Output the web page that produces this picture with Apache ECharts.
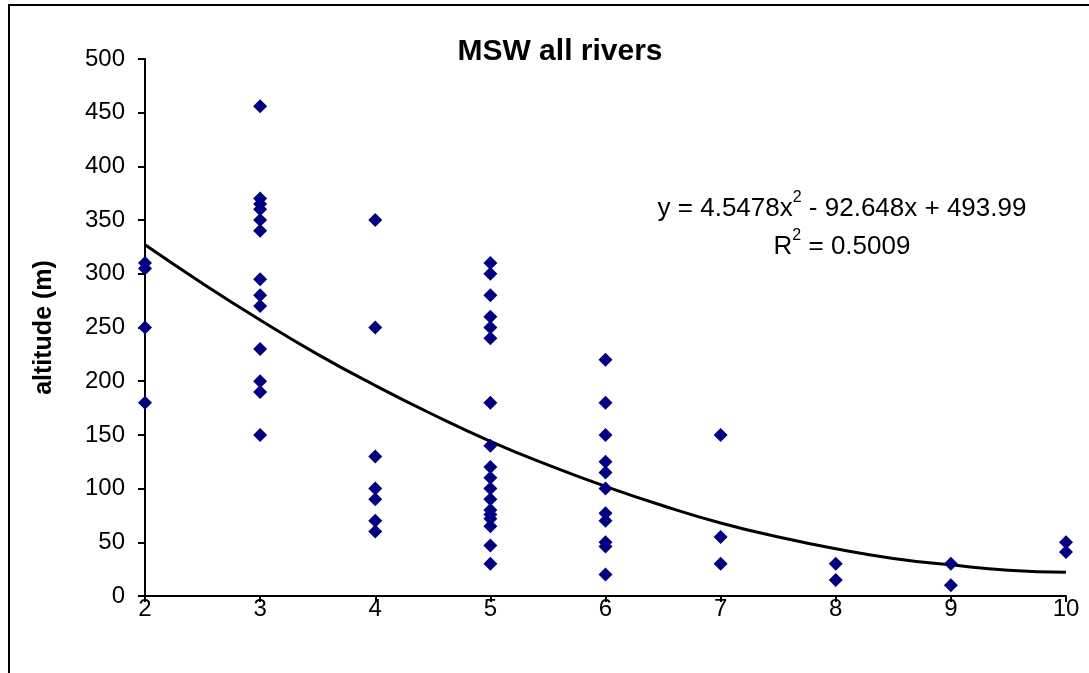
<!DOCTYPE html>
<html>
<head>
<meta charset="utf-8">
<title>MSW all rivers</title>
<script src="https://cdn.jsdelivr.net/npm/echarts@6/dist/echarts.min.js"></script>
<style>
  html, body { margin: 0; padding: 0; background: #fff; }
  #chart { width: 1089px; height: 673px; }
</style>
</head>
<body>
<div id="chart"></div>
<script>
  // stream order (x) of each site
  var orderX = [
    2, 2, 2, 2,
    3, 3, 3, 3, 3, 3, 3, 3, 3, 3, 3, 3, 3,
    4, 4, 4, 4, 4, 4, 4,
    5, 5, 5, 5, 5, 5, 5, 5, 5, 5, 5, 5, 5, 5, 5, 5, 5, 5,
    6, 6, 6, 6, 6, 6, 6, 6, 6, 6, 6,
    7, 7, 7,
    8, 8,
    9, 9,
    10, 10
  ];
  // altitude (m) of each site
  var altitude = [
    310, 305, 250, 180,
    456, 370, 365, 360, 350, 340, 295, 280, 270, 230, 200, 190, 150,
    350, 250, 130, 100, 90, 70, 60,
    310, 300, 280, 260, 250, 240, 180, 140, 120, 110, 100, 90, 80, 76, 72, 65, 47, 30,
    220, 180, 150, 125, 115, 100, 77, 70, 50, 46, 20,
    150, 55, 30,
    30, 15,
    30, 10,
    50, 41
  ];
  // polynomial trendline
  var trendX = [2, 2.5, 3, 3.5, 4, 4.5, 5, 5.5, 6, 6.5, 7, 7.5, 8, 8.5, 9, 9.5, 10];
  var trendY = [327, 291, 257, 225, 196, 169, 144, 122, 102, 84, 68, 55, 44, 35, 29, 24, 22];

  var yTicks = [0, 50, 100, 150, 200, 250, 300, 350, 400, 450, 500];

  var points = orderX.map(function (x, i) { return [x, altitude[i]]; });
  var trend = trendX.map(function (x, i) { return [x, trendY[i]]; });

  var font = 'Liberation Sans, Arial, sans-serif';
  var eqRich = {
    n: { fontSize: 26, fontFamily: font, color: '#000', lineHeight: 32, verticalAlign: 'bottom' },
    s: { fontSize: 16, fontFamily: font, color: '#000', lineHeight: 32, verticalAlign: 'top' }
  };

  var option = {
    backgroundColor: '#fff',
    animation: false,
    textStyle: { fontFamily: font },
    title: {
      text: 'MSW all rivers',
      left: 555,
      top: 32,
      textAlign: 'center',
      textStyle: { fontSize: 30, fontWeight: 'bold', color: '#000', fontFamily: font }
    },
    grid: { left: 145, right: 23, top: 59, bottom: 77 },
    xAxis: {
      type: 'value',
      min: 2,
      max: 10,
      interval: 1,
      splitLine: { show: false },
      axisLine: { lineStyle: { color: '#000', width: 2 } },
      axisTick: { show: true, length: 6, lineStyle: { color: '#000', width: 2 } },
      axisLabel: { color: '#000', fontSize: 24, margin: 1, fontFamily: font }
    },
    yAxis: {
      type: 'value',
      min: yTicks[0],
      max: yTicks[yTicks.length - 1],
      interval: 50,
      name: 'altitude (m)',
      nameLocation: 'middle',
      nameGap: 88,
      nameTextStyle: { fontSize: 25, fontWeight: 'bold', color: '#000', fontFamily: font },
      splitLine: { show: false },
      axisLine: { show: true, lineStyle: { color: '#000', width: 2 } },
      axisTick: { show: true, length: 7, lineStyle: { color: '#000', width: 2 } },
      axisLabel: { color: '#000', fontSize: 24, margin: 20, fontFamily: font }
    },
    series: [
      {
        name: 'sites',
        type: 'scatter',
        symbol: 'diamond',
        symbolSize: 14,
        itemStyle: { color: '#000080', opacity: 1 },
        data: points,
        z: 3
      },
      {
        name: 'trend',
        type: 'line',
        smooth: true,
        showSymbol: false,
        lineStyle: { color: '#000', width: 3 },
        data: trend,
        z: 2
      }
    ],
    graphic: [
      {
        type: 'rect',
        shape: { x: 9, y: 5, width: 1200, height: 800 },
        style: { fill: 'none', stroke: '#000', lineWidth: 2 },
        silent: true
      },
      {
        type: 'text',
        x: 842,
        y: 190,
        style: {
          text: '{n|y = 4.5478x}{s|2}{n| - 92.648x + 493.99}',
          align: 'center',
          rich: eqRich
        }
      },
      {
        type: 'text',
        x: 842,
        y: 228,
        style: {
          text: '{n|R}{s|2}{n| = 0.5009}',
          align: 'center',
          rich: eqRich
        }
      }
    ]
  };

  var myChart = echarts.init(document.getElementById('chart'));
  myChart.setOption(option);
  window.addEventListener('resize', function () {
    myChart.resize();
  });
</script>
</body>
</html>
